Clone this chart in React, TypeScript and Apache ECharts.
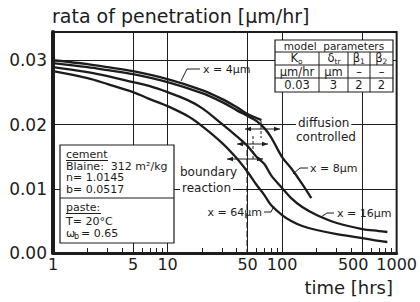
import React, { useEffect, useRef } from "react";
import * as echarts from "echarts";

const FONT = "DejaVu Sans";

// time [hrs] and rate of penetration [µm/hr] for each depth x
const time4um = [1, 2, 3, 5, 10, 20, 30, 40, 50, 60, 66];
const rate4um = [0.03, 0.0294, 0.02893, 0.0283, 0.02706, 0.02535, 0.02395, 0.02271, 0.02162, 0.021, 0.02068];
const time8um = [1, 2, 3, 5, 10, 20, 30, 40, 50, 60, 70, 80, 100, 120, 150, 180];
const rate8um = [0.02955, 0.02893, 0.02846, 0.02784, 0.0266, 0.02488, 0.02348, 0.02224, 0.02131, 0.02053, 0.01944, 0.01804, 0.01493, 0.0132, 0.01073, 0.00855];
const time16um = [1, 2, 3, 5, 7, 10, 15, 20, 30, 40, 50, 60, 70, 80, 100, 120, 150, 200, 300, 500, 700, 830];
const rate16um = [0.02893, 0.02815, 0.02753, 0.02659, 0.02597, 0.02504, 0.02379, 0.02255, 0.02006, 0.0182, 0.01664, 0.01493, 0.01384, 0.01213, 0.01011, 0.00855, 0.00715, 0.00591, 0.00467, 0.00373, 0.00342, 0.00327];
const time64um = [1, 2, 3, 5, 7, 10, 15, 20, 30, 40, 50, 60, 70, 80, 100, 120, 150, 200, 300, 500, 700, 830];
const rate64um = [0.0283, 0.02722, 0.02628, 0.02504, 0.02395, 0.02286, 0.02131, 0.01975, 0.01711, 0.01477, 0.0126, 0.01058, 0.00902, 0.00746, 0.00591, 0.00498, 0.0042, 0.00358, 0.00295, 0.00233, 0.00187, 0.00171];

const xLabelValues = [1, 5, 10, 50, 100, 500, 1000];
const xGridValues = [5, 10, 50, 100, 500];
const xMinorTicks = [2, 3, 4, 6, 7, 8, 9, 20, 30, 40, 60, 70, 80, 90, 200, 300, 400, 600, 700, 800, 900];

const tableRows = [
  ["µm/hr", "µm", "–", "–"],
  ["0.03", "3", "2", "2"],
];
const tableHead = [
  ["K", "o"],
  ["δ", "tr"],
  ["β", "1"],
  ["β", "2"],
];
const cementLines = ["Blaine:  312 m²/kg", "n= 1.0145", "b= 0.0517"];
const pasteLines = ["T= 20°C"];

const INK = "#1c1c1c";

function toPairs(ts: number[], vs: number[]) {
  return ts.map((t, i) => [Math.log10(t), vs[i]]);
}

function txt(x: number, y: number, text: string, size: number, align: string = "left", bg?: string) {
  return {
    type: "text",
    x,
    y,
    z: 100,
    style: {
      text,
      fontSize: size,
      fontFamily: FONT,
      fill: INK,
      align,
      verticalAlign: "middle",
      backgroundColor: bg,
      padding: bg ? [0, 2] : 0,
    },
  };
}

function ln(x1: number, y1: number, x2: number, y2: number, w = 1, dash?: number[]) {
  return {
    type: "line",
    z: 100,
    shape: { x1, y1, x2, y2 },
    style: { stroke: INK, lineWidth: w, lineDash: dash },
  };
}

function poly(points: number[][], w = 1) {
  return { type: "polyline", z: 100, shape: { points }, style: { stroke: INK, lineWidth: w, fill: null } };
}

function dblArrow(x1: number, x2: number, y: number) {
  return [
    ln(x1, y, x2, y, 1),
    { type: "polygon", z: 100, shape: { points: [[x1, y], [x1 + 6, y - 2.2], [x1 + 6, y + 2.2]] }, style: { fill: INK } },
    { type: "polygon", z: 100, shape: { points: [[x2, y], [x2 - 6, y - 2.2], [x2 - 6, y + 2.2]] }, style: { fill: INK } },
  ];
}

function subText(cx: number, y: number, main: string, sub: string, size: number) {
  return [
    txt(cx + 1, y - 0.5, main, size, "right"),
    txt(cx + 1, y + 3, sub, size * 0.65, "left"),
  ];
}

export default function App() {
  const ref = useRef<HTMLDivElement>(null);
  useEffect(() => {
    document.body.style.margin = "0";
    if (!ref.current) return;
    const chart = echarts.init(ref.current, undefined, { renderer: "svg" });

    const lineSeries = (name: string, data: number[][]) => ({
      name,
      type: "line",
      data,
      smooth: 0.35,
      showSymbol: false,
      symbol: "none",
      z: 3,
      lineStyle: { color: INK, width: 2.3 },
    });

    // table
    const tX = [275, 319, 348, 370, 393];
    const tY = [40, 52, 65, 78, 92];
    const table: any[] = [
      { type: "rect", z: 99, shape: { x: tX[0], y: tY[0], width: tX[4] - tX[0], height: tY[4] - tY[0] }, style: { fill: "#fff", stroke: INK, lineWidth: 1.2 } },
      ln(tX[0], tY[1], tX[4], tY[1]),
      ln(tX[0], tY[2], tX[4], tY[2]),
      ln(tX[0], tY[3], tX[4], tY[3]),
      ln(tX[1], tY[1], tX[1], tY[4]),
      ln(tX[2], tY[1], tX[2], tY[4]),
      ln(tX[3], tY[1], tX[3], tY[4]),
      txt((tX[0] + tX[4]) / 2, (tY[0] + tY[1]) / 2, "model  parameters", 10.5, "center"),
    ];
    tableHead.forEach((h, i) => {
      table.push(...subText((tX[i] + tX[i + 1]) / 2, (tY[1] + tY[2]) / 2, h[0], h[1], 11.5));
    });
    tableRows.forEach((row, r) => {
      row.forEach((c, i) => {
        table.push(txt((tX[i] + tX[i + 1]) / 2, (tY[r + 2] + tY[r + 3]) / 2, c, 11.5, "center"));
      });
    });

    // legend box
    const legend: any[] = [
      { type: "rect", z: 99, shape: { x: 60, y: 145, width: 114, height: 98 }, style: { fill: "#fff", stroke: INK, lineWidth: 1.2 } },
      txt(66, 154, "cement", 11),
      ln(66, 160.5, 108, 160.5),
      ...cementLines.map((s, i) => txt(66, 166 + i * 11.8, s, 11)),
      ln(60, 198, 174, 198),
      txt(66, 207.5, "paste:", 11),
      ln(66, 213.5, 101, 213.5),
      ...pasteLines.map((s, i) => txt(66, 221 + i * 11.8, s, 11)),
      txt(66, 233, "ω", 11),
      txt(74, 236.5, "b", 8),
      txt(81, 233, "= 0.65", 11),
    ];

    const annotations: any[] = [
      txt(203, 69, "x = 4µm", 11),
      poly([[200, 69], [187, 69], [181, 81]]),
      txt(310, 168, "x = 8µm", 11),
      poly([[308, 168], [300, 168], [293, 174]]),
      txt(337, 213, "x = 16µm", 11),
      poly([[334, 213], [327, 213], [321, 217]]),
      txt(262, 212, "x = 64µm", 11, "right"),
      poly([[264, 212], [271, 212], [274, 206]]),
      txt(296, 123, "diffusion", 12, "left", "#fff"),
      txt(296, 137, "controlled", 12, "left"),
      txt(180, 172, "boundary", 12, "left"),
      txt(180, 187.5, "reaction", 12, "left", "#fff"),
      ...dblArrow(245, 280, 129),
      ln(261, 121, 261, 138, 1, [3, 2]),
      ...dblArrow(237, 268, 144),
      ln(253, 136, 253, 160, 1, [3, 2]),
      ...dblArrow(227, 263, 159),
      ln(247, 150, 247, 252, 1, [6, 3]),
      txt(52, 16, "rata of penetration [µm/hr]", 19),
      txt(393, 287, "time [hrs]", 18, "right"),
    ];

    chart.setOption({
      animation: false,
      grid: { left: 53, right: 23, top: 32, bottom: 49, show: true, borderColor: INK, borderWidth: 2, backgroundColor: "#fff" },
      xAxis: {
        type: "value",
        min: 0,
        max: 3,
        axisLine: { show: true, lineStyle: { color: INK, width: 3 } },
        axisTick: {
          show: true,
          inside: true,
          length: 5,
          lineStyle: { color: INK, width: 1 },
          customValues: xMinorTicks.map((v) => Math.log10(v)),
        },
        axisLabel: {
          customValues: xLabelValues.map((v) => Math.log10(v)),
          formatter: (v: number) => {
            const n = Math.round(Math.pow(10, v));
            return n === 500 ? "{shift|500}" : String(n);
          },
          rich: { shift: { fontSize: 16, fontFamily: FONT, color: INK, padding: [0, 18, 0, 0] } },
          fontSize: 16,
          fontFamily: FONT,
          color: INK,
          margin: 3,
          interval: 0,
          showMaxLabel: true,
          showMinLabel: true,
          hideOverlap: false,
        },
        splitLine: { show: false },
      },
      yAxis: {
        type: "value",
        min: 0,
        max: 0.0344,
        interval: 0.01,
        axisLine: { show: true, lineStyle: { color: INK, width: 4 } },
        axisTick: { show: true, inside: true, length: 5, lineStyle: { color: INK } },
        axisLabel: {
          formatter: (v: number) => v.toFixed(2),
          showMaxLabel: false,
          fontSize: 17,
          fontFamily: FONT,
          color: INK,
          margin: 6,
        },
        splitLine: { show: true, lineStyle: { color: INK, width: 1 } },
      },
      series: [
        {
          type: "line",
          data: [],
          z: 1,
          markLine: {
            silent: true,
            symbol: "none",
            label: { show: false },
            lineStyle: { color: INK, width: 1, type: "solid" },
            data: xGridValues.map((v) => ({ xAxis: Math.log10(v) })),
          },
        },
        lineSeries("x = 4 µm", toPairs(time4um, rate4um)),
        lineSeries("x = 8 µm", toPairs(time8um, rate8um)),
        lineSeries("x = 16 µm", toPairs(time16um, rate16um)),
        lineSeries("x = 64 µm", toPairs(time64um, rate64um)),
      ],
      graphic: { elements: [...table, ...legend, ...annotations] },
    });
    return () => chart.dispose();
  }, []);
  return <div ref={ref} style={{ width: 420, height: 302 }} />;
}
